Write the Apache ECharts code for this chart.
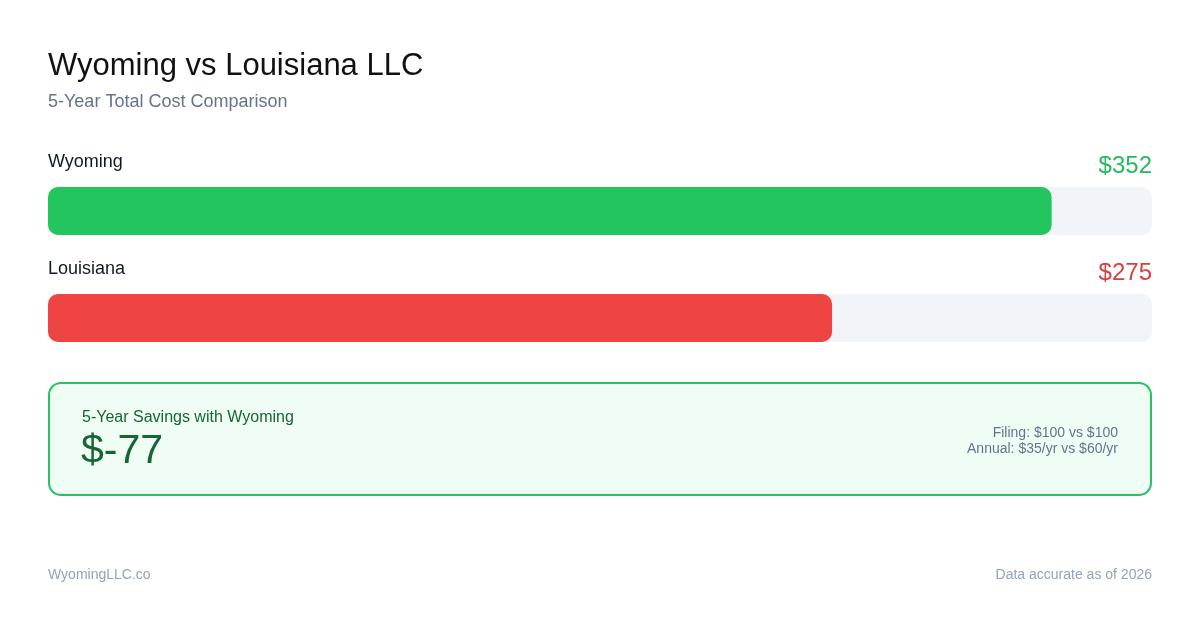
<!DOCTYPE html>
<html>
<head>
<meta charset="utf-8">
<script src="https://cdn.jsdelivr.net/npm/echarts@6/dist/echarts.min.js"></script>
<style>
  html, body { margin: 0; padding: 0; background: #fff; }
  #main { width: 1200px; height: 630px; }
</style>
</head>
<body>
<div id="main"></div>
<script>
// 数据
var states = ['Wyoming', 'Louisiana'];
var totals = [352, 275];
var barColors = ['#22c55e', '#ef4444'];
var valueColors = ['#28b85e', '#d93f3f'];
var filingFees = [100, 100];
var annualFees = [35, 60];

var FONT = '"Liberation Sans", Arial, sans-serif';
var chart = echarts.init(document.getElementById('main'));

var savings = totals[1] - totals[0];
var maxVal = Math.max.apply(null, totals) * 1.1;

// 标签（名字 + 金额）
var labelTexts = [];
var rowY = [161, 268];
for (var i = 0; i < states.length; i++) {
  labelTexts.push({
    type: 'text', left: 48, top: rowY[i] - 8,
    style: { text: states[i], font: '18px ' + FONT, fill: '#111827' }
  });
  labelTexts.push({
    type: 'text', right: 48, top: rowY[i] - 7,
    style: { text: '$' + totals[i], font: '24px ' + FONT, fill: valueColors[i], textAlign: 'right' }
  });
}

var option = {
  backgroundColor: '#ffffff',
  animation: false,
  grid: { left: 48, right: 48, top: 157.5, height: 214 },
  xAxis: { type: 'value', min: 0, max: maxVal, show: false },
  yAxis: { type: 'category', data: states, inverse: true, show: false },
  series: [{
    type: 'bar',
    barWidth: 48,
    data: totals.map(function (v, i) {
      return { value: v, itemStyle: { color: barColors[i], borderRadius: 10 } };
    }),
    showBackground: true,
    backgroundStyle: { color: '#f1f5f9', borderRadius: 10 }
  }],
  graphic: [
    { type: 'text', left: 48, top: 51,
      style: { text: 'Wyoming vs Louisiana LLC', font: '31px ' + FONT, fill: '#111111' } },
    { type: 'text', left: 48, top: 93,
      style: { text: '5-Year Total Cost Comparison', font: '18px ' + FONT, fill: '#64748b' } },
    // 节省框
    { type: 'rect', left: 48, top: 382,
      shape: { x: 1, y: 1, width: 1102, height: 112, r: 12 },
      style: { fill: '#f0fdf4', stroke: '#22c55e', lineWidth: 2 } },
    { type: 'text', left: 82, top: 410,
      style: { text: '5-Year Savings with Wyoming', font: '16px ' + FONT, fill: '#166534' } },
    { type: 'text', left: 81, top: 431,
      style: { text: '$' + savings, font: '41px ' + FONT, fill: '#166534' } },
    { type: 'text', right: 82, top: 426,
      style: { text: 'Filing: $' + filingFees[0] + ' vs $' + filingFees[1], font: '14px ' + FONT, fill: '#64748b', textAlign: 'right' } },
    { type: 'text', right: 82, top: 442,
      style: { text: 'Annual: $' + annualFees[0] + '/yr vs $' + annualFees[1] + '/yr', font: '14px ' + FONT, fill: '#64748b', textAlign: 'right' } },
    // 页脚
    { type: 'text', left: 48, top: 568,
      style: { text: 'WyomingLLC.co', font: '14px ' + FONT, fill: '#94a3b8' } },
    { type: 'text', right: 48, top: 568,
      style: { text: 'Data accurate as of 2026', font: '14px ' + FONT, fill: '#94a3b8', textAlign: 'right' } }
  ].concat(labelTexts)
};

chart.setOption(option);
</script>
</body>
</html>
